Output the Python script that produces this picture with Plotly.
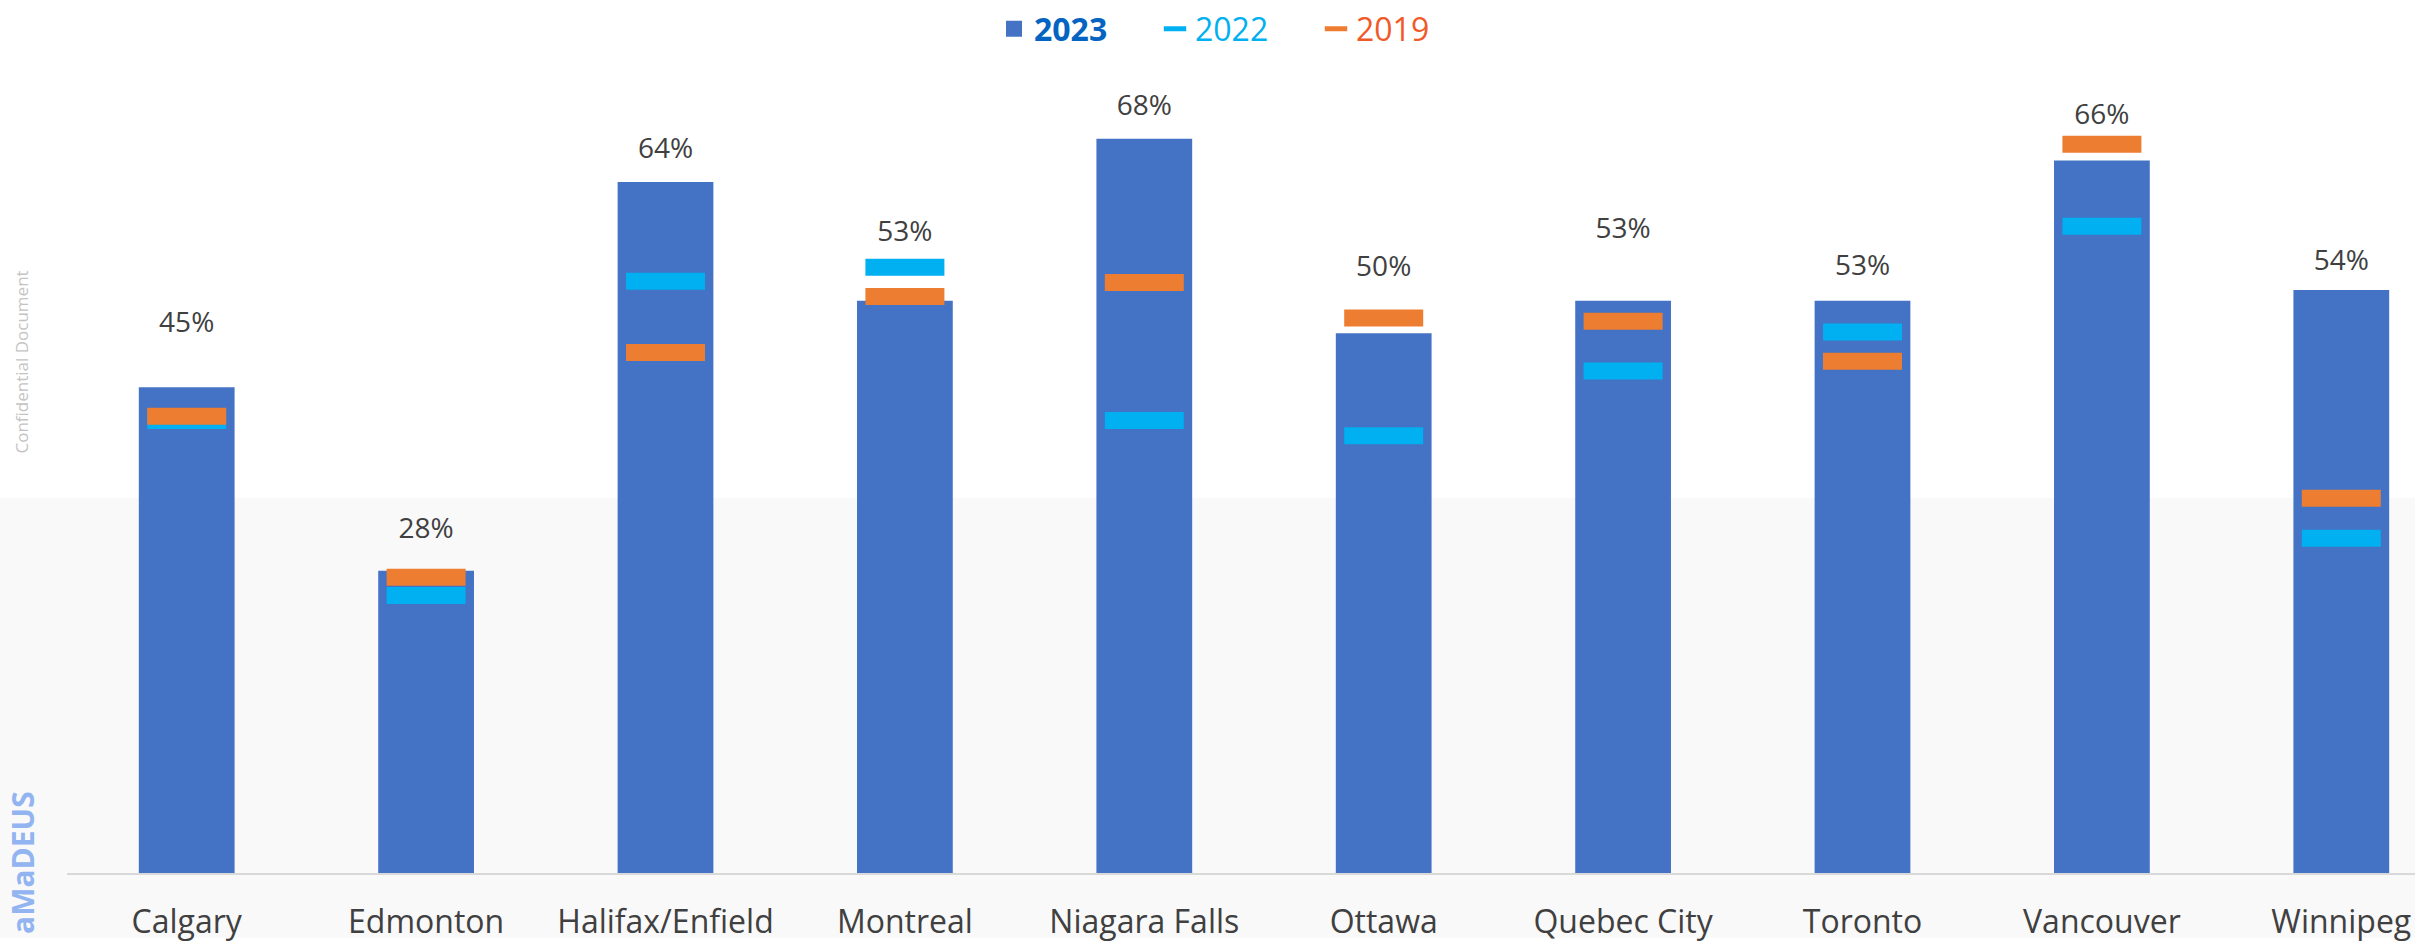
import plotly.graph_objects as go

categories = ["Calgary", "Edmonton", "Halifax/Enfield", "Montreal", "Niagara Falls",
              "Ottawa", "Quebec City", "Toronto", "Vancouver", "Winnipeg"]
occ_2023 = [45, 28, 64, 53, 68, 50, 53, 53, 66, 54]
occ_2022 = [41.9, 25.7, 54.8, 56.1, 41.9, 40.5, 46.5, 50.1, 59.9, 31.0]
occ_2019 = [42.3, 27.4, 48.2, 53.4, 54.7, 51.4, 51.1, 47.4, 67.5, 34.7]
# heights at which the value labels sit (in % units)
label_y = [50.8, 31.7, 66.9, 59.2, 70.9, 55.9, 59.5, 56.0, 70.0, 56.5]

W, H = 2415, 942
ML, MT, MB = 67, 60, 65
cat_px = 239.4
px_per_pct = 10.85
plot_w = W - ML
plot_h = H - MT - MB
dash_size = 79 / 1.4  # line-ew symbol spans 1.4*size

fig = go.Figure()

fig.add_trace(go.Bar(
    x=categories, y=occ_2023, name="2023", showlegend=False,
    marker=dict(color="#4472C4", line=dict(width=0)),
    width=0.4,
))

# legend-only entry for 2023 (square symbol)
fig.add_trace(go.Scatter(
    x=[None], y=[None], mode="markers",
    name="<b><span style='color:#0563C1'>2023</span></b>",
    marker=dict(symbol="square", size=16, color="#4472C4"),
    hoverinfo="skip", legendrank=1,
))

fig.add_trace(go.Scatter(
    x=categories, y=occ_2022, mode="markers",
    name="<span style='color:#00B0F0'>2022</span>",
    marker=dict(symbol="line-ew", size=dash_size, color="#00B0F0",
                line=dict(color="#00B0F0", width=17)),
    legendrank=2,
))

fig.add_trace(go.Scatter(
    x=categories, y=occ_2019, mode="markers",
    name="<span style='color:#F05A28'>2019</span>",
    marker=dict(symbol="line-ew", size=dash_size, color="#ED7D31",
                line=dict(color="#ED7D31", width=17)),
    legendrank=3,
))

fig.add_trace(go.Scatter(
    x=categories, y=label_y, mode="text",
    text=[f"{v}%" for v in occ_2023],
    textposition="middle center",
    textfont=dict(family="Open Sans", size=28, color="#404040"),
    showlegend=False, hoverinfo="skip",
))

# light background band in lower half
fig.add_shape(type="rect", xref="paper", yref="paper",
              x0=-ML / plot_w, x1=1.0,
              y0=-MB / plot_h, y1=(H - MB - 500) / plot_h,
              fillcolor="#F9F9FA", line=dict(width=0), layer="below")

fig.add_annotation(text="Confidential Document", textangle=-90,
                   xref="paper", yref="paper",
                   x=(22 - ML) / plot_w, y=(H - MB - 364) / plot_h,
                   xanchor="center", yanchor="middle",
                   showarrow=False,
                   font=dict(family="Open Sans", size=17, color="#C4C4C4"))
fig.add_annotation(text="<b>aMaDEUS</b>", textangle=-90,
                   xref="paper", yref="paper",
                   x=(23 - ML) / plot_w, y=(H - MB - 793) / plot_h,
                   xanchor="center", yanchor="top",
                   showarrow=False,
                   font=dict(family="Open Sans", size=30, color="#92B4F0"))

fig.update_layout(
    width=W, height=H,
    margin=dict(l=ML, r=0, t=MT, b=MB, pad=0),
    paper_bgcolor="white",
    plot_bgcolor="rgba(0,0,0,0)",
    bargap=0.6,
    showlegend=True,
    legend=dict(orientation="h", xref="container", yref="container",
                x=0.5116, xanchor="center", y=(H - 29) / H, yanchor="middle",
                font=dict(family="Open Sans", size=32),
                itemsizing="trace", entrywidth=116, entrywidthmode="pixels",
                bgcolor="rgba(0,0,0,0)"),
    xaxis=dict(type="category", categoryorder="array", categoryarray=categories,
               range=[-0.5, -0.5 + plot_w / cat_px], showgrid=False,
               showline=True, linecolor="#D9D9D9", linewidth=2,
               ticks="", tickfont=dict(family="Open Sans", size=32, color="#404040"),
               ticklabelstandoff=20, fixedrange=True),
    yaxis=dict(range=[0, plot_h / px_per_pct], visible=False, showgrid=False,
               zeroline=False, fixedrange=True),
)

fig.write_html("out.html", config={"displayModeBar": False},
               post_script="document.body.style.margin='0';document.body.style.overflow='hidden';")
